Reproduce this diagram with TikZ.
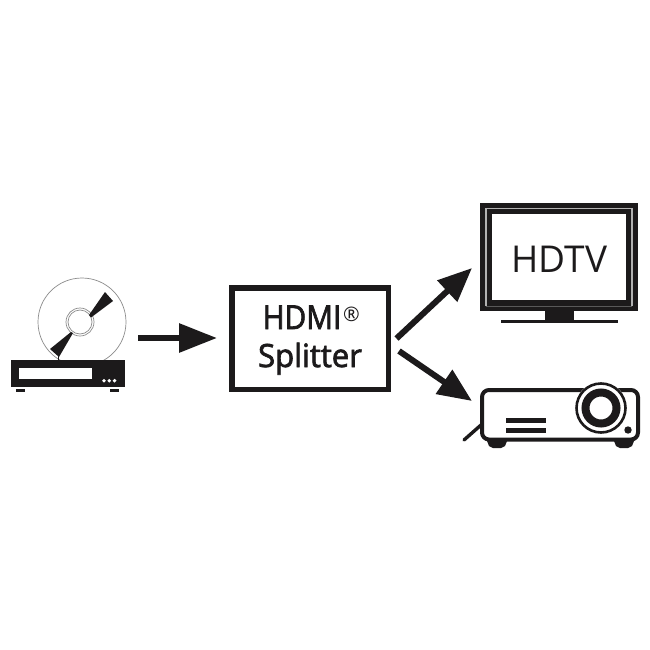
\documentclass[tikz,border=0pt]{standalone}
\usepackage{fontspec}
\setmainfont{Open Sans}
\newfontfamily\semibold[FakeBold=2.2]{Open Sans}
\usetikzlibrary{arrows.meta}
\definecolor{ink}{HTML}{1C1A1B}
\tikzset{
  x=1pt,y=-1pt,
  bigarrow/.style={draw=ink,line width=6pt,-{Triangle[length=#1,width=28pt,color=ink]}},
  inkfill/.style={fill=ink,draw=none},
  inkline/.style={draw=ink,line join=round},
  label/.style={text=ink,inner sep=0pt,anchor=base},
  disc/.style={draw=black!45,line width=0.7pt,fill=none}
}
\begin{document}
\begin{tikzpicture}
\useasboundingbox (0,0) rectangle (650,650);
\fill[white] (0,0) rectangle (650,650);
% player: disc
\draw[disc] (82,322) circle[radius=44];
\draw[disc] (80,322) circle[radius=14];
\draw[disc] (80,322) circle[radius=12];
\fill[white] (35,360) rectangle (130,375);
\path[inkfill] (105,292) -- (113,301) -- (91,317.5) -- (89,315) -- cycle;
\path[inkfill] (50,349) -- (59,357) -- (73,333) -- (71,332) -- cycle;
\draw[ink,line width=1pt] (58,356) -- (58,361);
% player: box
\path[inkfill] (11,360) rectangle (125,387);
\path[fill=white] (19,367.5) rectangle (92,379);
\foreach \px in {104,109.3,114.6} \path[fill=white] (\px,380.7) circle[radius=1.9];
\path[inkfill] (16,389) rectangle (25,392);
\path[inkfill] (110,389) rectangle (119,392);
\coordinate (playerout) at (138,338);
\coordinate (splitin) at (217,338);
% splitter
\node[draw=ink,line width=5.5pt,minimum width=156.5pt,minimum height=101.5pt,inner sep=0pt] (split) at (310,338.5) {};
\node[label,font=\fontsize{33}{33}\semibold] (hdmi) at (302,329) {\scalebox{0.9}[1]{HDMI}};
\node[label,font=\fontsize{20}{20}\selectfont,anchor=base west] (reg) at (343,321) {®};
\node[label,font=\fontsize{32}{32}\semibold] (splittext) at (310,367) {\scalebox{0.97}[1]{Splitter}};
\coordinate (splitoutA) at (396.5,338.5);
\coordinate (tvin) at (472,268);
\coordinate (splitoutB) at (399,351);
\coordinate (projin) at (472,401);
\draw[bigarrow=38pt] (playerout) -- (splitin);
\draw[bigarrow=34pt] (splitoutA) -- (tvin);
\draw[bigarrow=34pt] (splitoutB) -- (projin);
% tv
\node[fill=ink,minimum width=158pt,minimum height=108pt,inner sep=0pt] (tv) at (559,257) {};
\draw[black!30,line width=1.6pt] (486,306) -- (486,208.5) -- (632,208.5) -- (632,306);
\draw[black!65,line width=1pt] (486,306) -- (632,306);
\path[fill=white] (492,214) rectangle (626,300);
\node[label,font=\fontsize{37}{37}\selectfont] (hdtv) at (559.5,272) {HDTV};
\path[inkfill] (545,311) rectangle (574,320);
\path[inkfill] (501,319.5) rectangle (618,322.5);
% projector
\draw[inkline,line width=4pt,rounded corners=7pt,fill=white] (482,390) rectangle (638,439.5);
\draw[inkline,line width=3.4pt,line cap=round] (481,425) -- (464,440);
\path[inkfill] (487,441) -- (507,441) -- (505,446) -- (501,448) -- (493,448) -- (489,446) -- cycle;
\path[inkfill] (614,441) -- (634,441) -- (632,446) -- (628,448) -- (620,448) -- (616,446) -- cycle;
\path[inkfill] (506,418) rectangle (546,422.5);
\path[inkfill] (506,428) rectangle (546,432.5);
\path[fill=white] (601,408) circle[radius=26];
\draw[ink,line width=2.6pt] (601,408) circle[radius=24.5];
\draw[ink,line width=8pt] (601,408) circle[radius=15.5];
\path[inkfill] (628,430) circle[radius=3.7];
\end{tikzpicture}
\end{document}
